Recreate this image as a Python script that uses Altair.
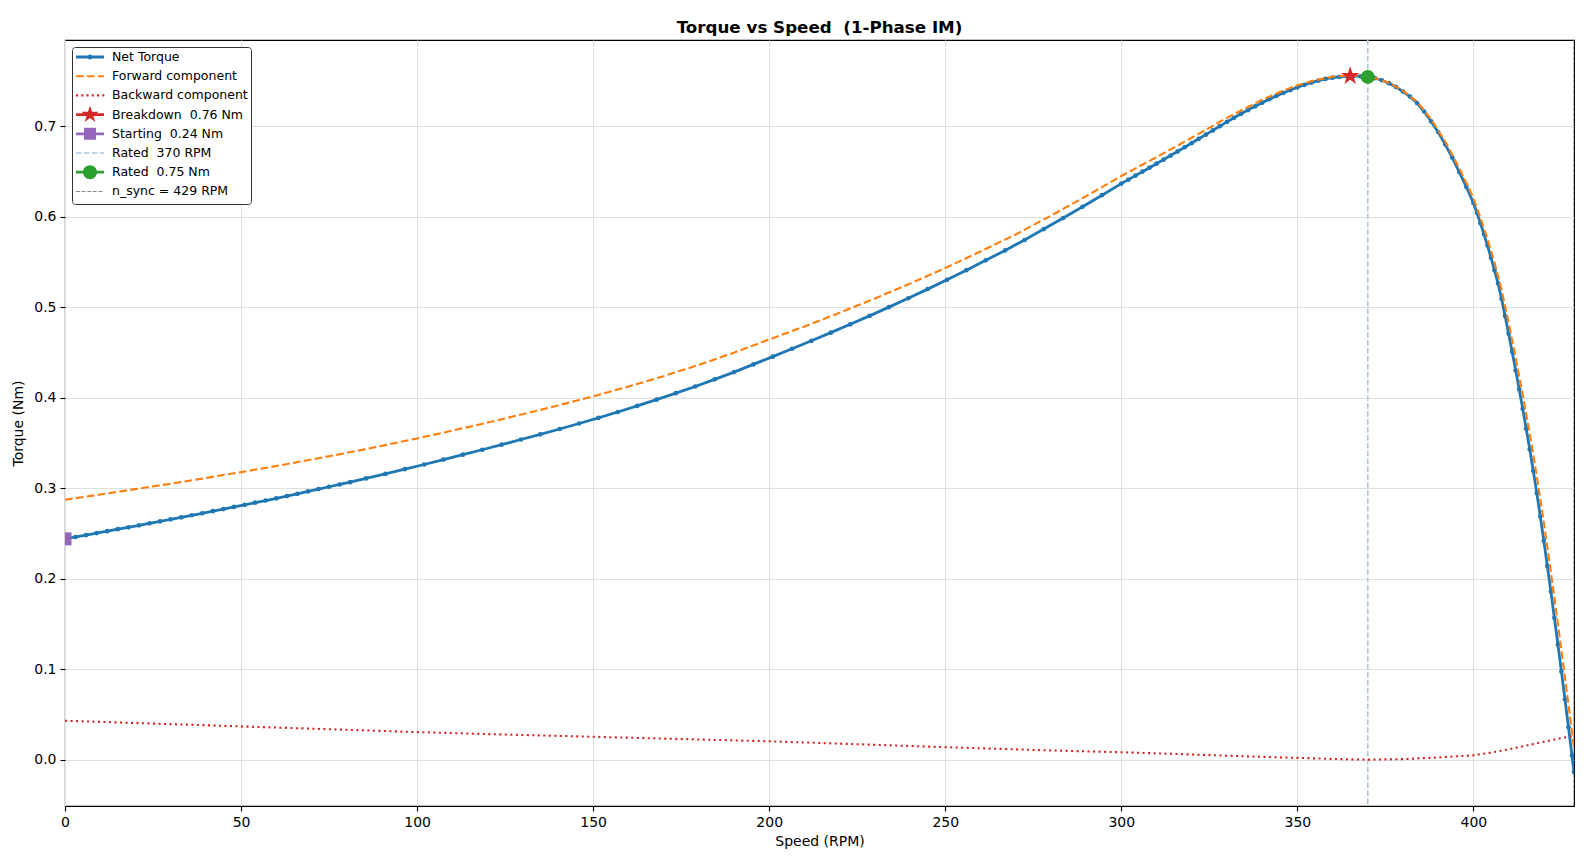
import altair as alt
import pandas as pd

# ---------------- data ----------------
NET_SPEED = [0, 3, 6, 9, 12, 15, 18, 21, 24, 27, 30, 33, 36, 39, 42, 45, 48, 51, 54, 57,
             60, 63, 66, 69, 72, 75, 78, 81,
             85.5, 91, 96.5, 102, 107.5, 113, 118.5, 124, 129.5, 135, 140.5, 146, 151.5,
             157, 162.5, 168, 173.5, 179, 184.5, 190, 195.5, 201, 206.5, 212, 217.5, 223,
             228.5, 234, 239.5, 245, 250.5, 256, 261.5, 267, 272.5, 278, 283.5, 289, 294.5,
             300, 302, 304, 306, 308, 310, 312, 314, 316, 318, 320, 322, 324, 326, 328, 330,
             332, 334, 336, 338, 340, 342, 344, 346, 348, 350, 352, 354, 356, 358, 360, 362,
             364, 366, 368, 370, 372, 374, 376, 378, 380, 382, 384, 386, 388, 390, 392, 394,
             396, 398,
             400, 401, 402, 403, 404, 405, 406, 407, 408, 409, 410, 411, 412, 413, 414, 415,
             416, 417, 418, 419, 420, 421, 422, 423, 424, 425, 426, 427, 428, 428.57]
NET_TORQUE = [0.2442, 0.2463, 0.2484, 0.2506, 0.2527, 0.2549, 0.2570, 0.2592, 0.2614, 0.2636,
              0.2658, 0.2680, 0.2703, 0.2725, 0.2748, 0.2771, 0.2795, 0.2818, 0.2842, 0.2866,
              0.2890, 0.2915, 0.2940, 0.2966, 0.2992, 0.3018, 0.3043, 0.3069,
              0.3110, 0.3160, 0.3212, 0.3264, 0.3318, 0.3372, 0.3427, 0.3483, 0.3540, 0.3597,
              0.3656, 0.3717, 0.3779, 0.3844, 0.3911, 0.3980, 0.4052, 0.4126, 0.4205, 0.4285,
              0.4370, 0.4456, 0.4543, 0.4631, 0.4721, 0.4813, 0.4906, 0.5003, 0.5101, 0.5202,
              0.5305, 0.5411, 0.5520, 0.5630, 0.5745, 0.5866, 0.5988, 0.6112, 0.6240,
              0.6368, 0.6412, 0.6456, 0.6500, 0.6544, 0.6588, 0.6633, 0.6678, 0.6724, 0.6770,
              0.6816, 0.6863, 0.6909, 0.6956, 0.7003, 0.7050, 0.7095, 0.7139, 0.7181, 0.7222,
              0.7262, 0.7300, 0.7336, 0.7370, 0.7402, 0.7432, 0.7460, 0.7485, 0.7507, 0.7525,
              0.7539, 0.7549, 0.7555, 0.7556, 0.7553, 0.7547, 0.7533, 0.7510, 0.7478, 0.7436,
              0.7385, 0.7330, 0.7258, 0.7165, 0.7055, 0.6937, 0.6800, 0.6656, 0.6495, 0.6330,
              0.6155, 0.6045, 0.5930, 0.5810, 0.5683, 0.5550, 0.5410, 0.5265, 0.5095, 0.4905,
              0.4710, 0.4510, 0.4305, 0.4095, 0.3880, 0.3660, 0.3432, 0.3195, 0.2948, 0.2690,
              0.2420, 0.2143, 0.1860, 0.1570, 0.1275, 0.0975, 0.0670, 0.0360, 0.0047, -0.0133]

FWD_SPEED = [0, 10, 20, 30, 40, 50, 60, 70, 80, 90, 100, 110, 120, 130, 140, 150, 160, 170,
             180, 190, 200, 210, 220, 230, 240, 250, 260, 270, 280, 290, 300, 310, 320, 330,
             340, 345, 350, 355, 360, 364, 368, 372, 376, 380, 384, 388, 392, 396, 398, 400,
             402, 404, 406, 408, 410, 412, 414, 416, 418, 420, 422, 424, 426, 427, 428, 428.57]
FWD_TORQUE = [0.2874, 0.2932, 0.2992, 0.3052, 0.3115, 0.3180, 0.3247, 0.3319, 0.3392, 0.3470,
              0.3552, 0.3638, 0.3727, 0.3820, 0.3915, 0.4017, 0.4125, 0.4240, 0.4365, 0.4500,
              0.4645, 0.4790, 0.4941, 0.5098, 0.5263, 0.5435, 0.5618, 0.5806, 0.6014, 0.6229,
              0.6452, 0.6660, 0.6875, 0.7095, 0.7295, 0.7380, 0.7454, 0.7510, 0.7549, 0.7560,
              0.7557, 0.7536, 0.7483, 0.7393, 0.7272, 0.7077, 0.6833, 0.6537, 0.6376, 0.6205,
              0.5990, 0.5755, 0.5496, 0.5195, 0.4830, 0.4443, 0.4035, 0.3605, 0.3138, 0.2625,
              0.2078, 0.1505, 0.0912, 0.0608, 0.0303, 0.0130]

BWD_SPEED = [0, 20, 40, 60, 80, 100, 120, 140, 160, 180, 200, 220, 240, 260, 280, 300, 320,
             340, 350, 360, 370, 380, 390, 400, 405, 410, 415, 420, 424, 428.57]
BWD_TORQUE = [0.0432, 0.0407, 0.0382, 0.0357, 0.0332, 0.0307, 0.0285, 0.0265, 0.0245, 0.0225,
              0.0205, 0.0179, 0.0153, 0.0128, 0.0104, 0.0084, 0.0059, 0.0033, 0.0022, 0.0010,
              0.0002, 0.0008, 0.0027, 0.0050, 0.0080, 0.0116, 0.0158, 0.0200, 0.0232, 0.0265]

BREAKDOWN_SPEED = [365.0]
BREAKDOWN_TORQUE = [0.7556]
STARTING_SPEED = [0.0]
STARTING_TORQUE = [0.2442]
RATED_SPEED = [370.0]
RATED_TORQUE = [0.7547]
N_SYNC = [428.57]

X_DOMAIN = [0, 428.57]
Y_DOMAIN = [-0.051, 0.7955]
X_TICKS = [0, 50, 100, 150, 200, 250, 300, 350, 400]
Y_TICKS = [0.0, 0.1, 0.2, 0.3, 0.4, 0.5, 0.6, 0.7]

NBSP = "\u00a0"
TITLE = "Torque vs Speed" + NBSP + " (1-Phase IM)"
LEGEND_LABELS = ["Net Torque", "Forward component", "Backward component",
                 "Breakdown" + NBSP + " 0.76 Nm", "Starting" + NBSP + " 0.24 Nm",
                 "Rated" + NBSP + " 370 RPM", "Rated" + NBSP + " 0.75 Nm",
                 "n_sync = 429 RPM"]

# ---------------- styles ----------------
C_NET = "#1f77b4"
C_FWD = "#ff7f0e"
C_BWD = "#d62728"
C_BRK = "#d62728"
C_START = "#9467bd"
C_RATED_LINE = "#aec7e8"
C_RATED_PT = "#2ca02c"
C_SYNC = "#8c8c8c"
LEGEND_COLORS = [C_NET, C_FWD, C_BWD, C_BRK, C_START, C_RATED_LINE, C_RATED_PT, C_SYNC]

STAR = ("M0,-1.3L0.2921,-0.4019L1.2364,-0.4018L0.4725,0.1535L0.7641,1.0517L0,0.4969"
        "L-0.7641,1.0517L-0.4725,0.1535L-1.2364,-0.4018L-0.2921,-0.4019Z")
# zero-area guide so that every legend row gets the same height
ROW = " M0,-1.33L0,1.33"
LINE_THICK = "M-2,-0.2H2V0.2H-2Z"
SYM_NET = LINE_THICK + " M0.36,0A0.36,0.36,0,1,1,-0.36,0A0.36,0.36,0,1,1,0.36,0Z" + ROW
SYM_FWD = ("M-2,-0.15H-0.9V0.15H-2Z M-0.43,-0.15H0.67V0.15H-0.43Z "
           "M1.14,-0.15H2V0.15H1.14Z" + ROW)
SYM_BWD = ("M-2,-0.15H-1.7V0.15H-2Z M-1.25,-0.15H-0.95V0.15H-1.25Z "
           "M-0.5,-0.15H-0.2V0.15H-0.5Z M0.25,-0.15H0.55V0.15H0.25Z "
           "M1,-0.15H1.3V0.15H1Z M1.75,-0.15H2.05V0.15H1.75Z" + ROW)
SYM_BRK = LINE_THICK + " " + STAR + ROW
SYM_START = LINE_THICK + " M-0.86,-0.86H0.86V0.86H-0.86Z" + ROW
SYM_RATED_LINE = ("M-2,-0.12H-1.21V0.12H-2Z M-0.87,-0.12H-0.08V0.12H-0.87Z "
                  "M0.26,-0.12H1.05V0.12H0.26Z M1.39,-0.12H2V0.12H1.39Z" + ROW)
SYM_RATED_PT = LINE_THICK + " M1,0A1,1,0,1,1,-1,0A1,1,0,1,1,1,0Z" + ROW
SYM_SYNC = ("M-2,-0.07H-1.43V0.07H-2Z M-1.2,-0.07H-0.63V0.07H-1.2Z "
            "M-0.4,-0.07H0.17V0.07H-0.4Z M0.4,-0.07H0.97V0.07H0.4Z "
            "M1.2,-0.07H1.77V0.07H1.2Z" + ROW)
LEGEND_SHAPES = [SYM_NET, SYM_FWD, SYM_BWD, SYM_BRK, SYM_START, SYM_RATED_LINE,
                 SYM_RATED_PT, SYM_SYNC]

FONT = "DejaVu Sans"

xs = alt.Scale(domain=X_DOMAIN, nice=False, zero=False)
ys = alt.Scale(domain=Y_DOMAIN, nice=False, zero=False)

common_axis = dict(grid=True, gridColor="#dfdfdf", gridWidth=1, tickColor="black",
                   tickSize=5, tickWidth=1.1, domain=False, labelFont=FONT,
                   labelFontSize=14, labelColor="black", labelPadding=4,
                   labelFlush=False, labelOverlap=False, titleFont=FONT,
                   titleFontSize=14, titleFontWeight="normal", titleColor="black")
x_axis = alt.Axis(values=X_TICKS, format="d", title="Speed (RPM)", titlePadding=5,
                  **common_axis)
y_axis = alt.Axis(values=Y_TICKS, format=".1f", title="Torque (Nm)", titlePadding=8,
                  **common_axis)


def X(f):
    return alt.X(f, type="quantitative", scale=xs, axis=x_axis)


def Y(f):
    return alt.Y(f, type="quantitative", scale=ys, axis=y_axis)


net_df = pd.DataFrame({"speed": NET_SPEED, "torque": NET_TORQUE})
fwd_df = pd.DataFrame({"speed": FWD_SPEED, "torque": FWD_TORQUE})
bwd_df = pd.DataFrame({"speed": BWD_SPEED, "torque": BWD_TORQUE})

rated_rule = alt.Chart(pd.DataFrame({"speed": RATED_SPEED})).mark_rule(
    color=C_RATED_LINE, strokeWidth=1.6, strokeDash=[5.5, 2.4], clip=True
).encode(x=X("speed"))

sync_rule = alt.Chart(pd.DataFrame({"speed": N_SYNC})).mark_rule(
    color=C_SYNC, strokeWidth=1, strokeDash=[4, 1.6], clip=True
).encode(x=X("speed"))

net_line = alt.Chart(net_df).mark_line(
    color=C_NET, strokeWidth=2.8, clip=True,
    point=alt.OverlayMarkDef(filled=True, size=22, color=C_NET, opacity=1, clip=True)
).encode(x=X("speed"), y=Y("torque"))

fwd_line = alt.Chart(fwd_df).mark_line(
    color=C_FWD, strokeWidth=2.1, strokeDash=[7.7, 3.3], clip=True
).encode(x=X("speed"), y=Y("torque"))

bwd_line = alt.Chart(bwd_df).mark_line(
    color=C_BWD, strokeWidth=2.1, strokeDash=[2.1, 3.4], clip=True
).encode(x=X("speed"), y=Y("torque"))

brk_pt = alt.Chart(pd.DataFrame({"speed": BREAKDOWN_SPEED, "torque": BREAKDOWN_TORQUE})).mark_point(
    filled=True, shape=STAR, size=225, color=C_BRK, opacity=1, clip=True
).encode(x=X("speed"), y=Y("torque"))

start_pt = alt.Chart(pd.DataFrame({"speed": STARTING_SPEED, "torque": STARTING_TORQUE})).mark_point(
    filled=True, shape="square", size=169, color=C_START, opacity=1, clip=True
).encode(x=X("speed"), y=Y("torque"))

rated_pt = alt.Chart(pd.DataFrame({"speed": RATED_SPEED, "torque": RATED_TORQUE})).mark_point(
    filled=True, shape="circle", size=196, color=C_RATED_PT, opacity=1, clip=True
).encode(x=X("speed"), y=Y("torque"))

leg = alt.Legend(title=None, orient="none", legendX=7, legendY=7, fillColor="white",
                 strokeColor="#333333", cornerRadius=3, padding=3, symbolSize=196,
                 symbolOffset=8, labelOffset=15, labelFontSize=12.5, labelFont=FONT,
                 labelColor="black", rowPadding=-0.8, symbolStrokeWidth=0, labelLimit=300,
                 symbolOpacity=1)

legend_df = pd.DataFrame({"label": LEGEND_LABELS, "speed": [0.0] * len(LEGEND_LABELS),
                          "torque": [0.0] * len(LEGEND_LABELS)})
legend_layer = alt.Chart(legend_df).transform_filter("false").mark_point(
    filled=True, opacity=1, size=196
).encode(
    x=X("speed"), y=Y("torque"),
    color=alt.Color("label:N", scale=alt.Scale(domain=LEGEND_LABELS, range=LEGEND_COLORS),
                    legend=leg),
    shape=alt.Shape("label:N", scale=alt.Scale(domain=LEGEND_LABELS, range=LEGEND_SHAPES),
                    legend=leg),
)

chart = alt.layer(
    rated_rule, sync_rule, net_line, fwd_line, bwd_line, brk_pt, start_pt, rated_pt,
    legend_layer
).properties(
    width=1509, height=766,
    title=alt.Title(TITLE, fontSize=16.7, font=FONT, fontWeight="bold", color="black",
                    anchor="middle", offset=8, baseline="alphabetic", dy=18),
    autosize=alt.AutoSizeParams(type="none"),
    padding={"left": 57, "top": 32, "right": 12, "bottom": 45},
).configure_view(stroke="black", strokeWidth=1.1)

chart.save("out.html", embed_options={"renderer": "svg", "actions": False})
